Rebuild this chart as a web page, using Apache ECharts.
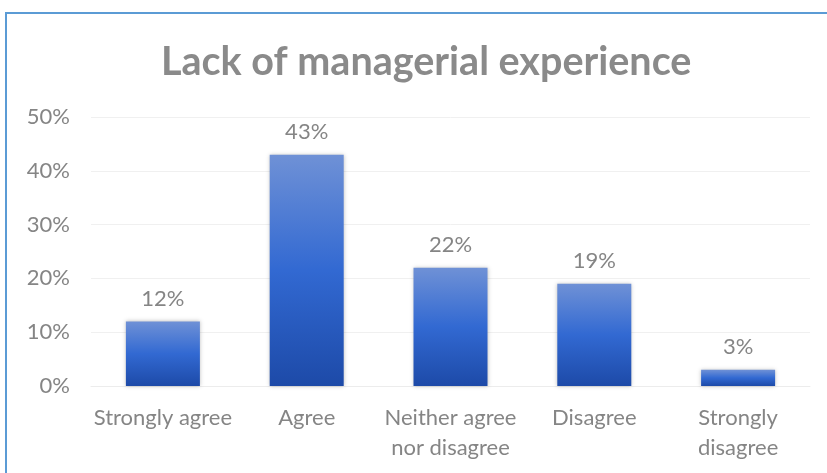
<!DOCTYPE html>
<html>
<head>
<meta charset="utf-8">
<script src="https://cdn.jsdelivr.net/npm/echarts@6/dist/echarts.min.js"></script>
<style>
  html, body { margin: 0; padding: 0; background: #fff; }
  #chart { width: 827px; height: 473px; }
</style>
</head>
<body>
<div id="chart"></div>
<script>
// Survey responses: "Lack of managerial experience"
const categories = ['Strongly agree', 'Agree', 'Neither agree\nnor disagree', 'Disagree', 'Strongly\ndisagree'];
const shares = [12, 43, 22, 19, 3];
const yTicks = [0, 10, 20, 30, 40, 50];

const chart = echarts.init(document.getElementById('chart'), null, { renderer: 'canvas' });

const barGradient = new echarts.graphic.LinearGradient(0, 0, 0, 1, [
  { offset: 0, color: '#6f91d6' },
  { offset: 0.5, color: '#3269d2' },
  { offset: 1, color: '#1d4aa8' }
]);

const FONT = 'Lato';

chart.setOption({
  animation: false,
  backgroundColor: '#ffffff',
  textStyle: { fontFamily: FONT },
  title: {
    text: 'Lack of managerial experience',
    left: 156,
    top: 37,
    textStyle: { fontFamily: FONT, fontWeight: 'bold', fontSize: 39.5, color: '#8a8a8a' }
  },
  graphic: [{
    type: 'rect',
    shape: { x: 6, y: 13, width: 840, height: 480 },
    style: { fill: 'none', stroke: '#5b9bd5', lineWidth: 2 },
    silent: true
  }],
  grid: { left: 91, right: 17, top: 117, bottom: 87, containLabel: false },
  xAxis: {
    type: 'category',
    data: categories,
    axisLine: { show: true, lineStyle: { color: '#ececec', width: 1 } },
    axisTick: { show: false },
    axisLabel: { interval: 0, color: '#858585', fontSize: 22, margin: 17, lineHeight: 30 }
  },
  yAxis: {
    type: 'value',
    min: yTicks[0],
    max: yTicks[yTicks.length - 1],
    interval: 10,
    axisLine: { show: false },
    axisTick: { show: false },
    splitLine: { lineStyle: { color: '#f0f0f0', width: 1 } },
    axisLabel: { color: '#858585', fontSize: 22, margin: 21, formatter: v => v + '%' }
  },
  series: [{
    type: 'bar',
    data: shares,
    barWidth: 74,
    itemStyle: {
      color: barGradient,
      shadowColor: 'rgba(0,0,0,0.25)',
      shadowBlur: 4
    },
    label: {
      show: true,
      position: 'top',
      distance: 12,
      color: '#858585',
      fontSize: 22,
      formatter: p => p.value + '%'
    }
  }]
});
</script>
</body>
</html>
